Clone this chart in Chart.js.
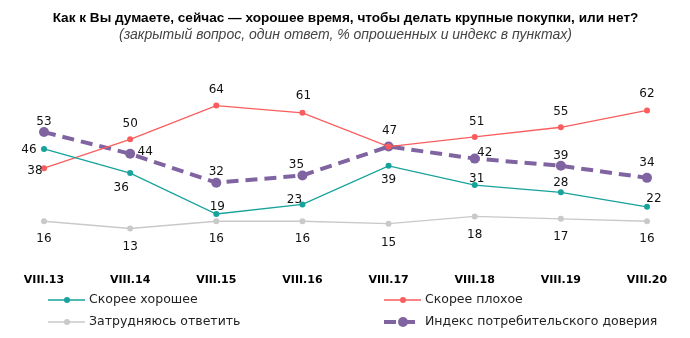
<!DOCTYPE html>
<html>
<head>
<meta charset="utf-8">
<script src="https://cdn.jsdelivr.net/npm/chart.js@4"></script>
<style>
  html, body { margin: 0; padding: 0; background: #fff; }
  #wrap { width: 690px; height: 338px; position: relative; }
</style>
</head>
<body>
<div id="wrap"><canvas id="chartPokupki"></canvas></div>
<script>
// Периоды опроса
const periods = ['VIII.13', 'VIII.14', 'VIII.15', 'VIII.16', 'VIII.17', 'VIII.18', 'VIII.19', 'VIII.20'];

// Доли ответов, %
const goodTime = [46, 36, 19, 23, 39, 31, 28, 22];
const badTime = [38, 50, 64, 61, 47, 51, 55, 62];
const hardToSay = [16, 13, 16, 16, 15, 18, 17, 16];
// Индекс потребительского доверия, пункты
const confidenceIndex = [53, 44, 32, 35, 47, 42, 39, 34];

// смещения подписей значений относительно точек (dx, dy), null - без подписи
const offGood = [[-15, 1], [-9, 15], [1, -7], [-8, -5], [0, 14], [2, -6], [0, -9], [7, -8]];
const offBad = [[-9, 3], [0, -15], [0, -16], [1, -17], [1, -16], [2, -15], [0, -15], [0, -17]];
const offHard = [[0, 18], [0, 18], [0, 18], [0, 18], [0, 19], [0, 18], [0, 18], [0, 18]];
const offIndex = [[0, -10], [15, -2], [0, -11], [-6, -11], null, [10, -6], [0, -10], [0, -15]];

const cGood = '#17a29b';
const cBad = '#fa5d5d';
const cHard = '#c9c9c9';
const cIndex = '#8064a2';

// подписи значений над точками
const valueLabels = {
    id: 'valueLabels',
    afterDatasetsDraw(chart) {
        const ctx = chart.ctx;
        ctx.save();
        ctx.font = '12px "DejaVu Sans"';
        ctx.fillStyle = '#111';
        ctx.textAlign = 'center';
        ctx.textBaseline = 'middle';
        chart.data.datasets.forEach((ds, i) => {
            const meta = chart.getDatasetMeta(i);
            meta.data.forEach((pt, j) => {
                const off = ds.labelOffsets[j];
                if (!off) return;
                ctx.fillText(ds.data[j], pt.x + off[0], pt.y + off[1]);
            });
        });
        ctx.restore();
    }
};

// легенда в две колонки
const twoColLegend = {
    id: 'twoColLegend',
    afterDraw(chart) {
        const ctx = chart.ctx;
        const cols = [48, 384];
        const rows = [300, 322];
        ctx.save();
        ctx.font = '12.5px "DejaVu Sans"';
        ctx.textBaseline = 'middle';
        ctx.textAlign = 'left';
        chart.data.datasets.forEach((ds, k) => {
            const x = cols[k % 2];
            const y = rows[Math.floor(k / 2)];
            ctx.strokeStyle = ds.borderColor;
            ctx.lineWidth = ds.borderWidth;
            ctx.setLineDash(ds.borderDash || []);
            ctx.beginPath();
            ctx.moveTo(x, y);
            ctx.lineTo(x + 37, y);
            ctx.stroke();
            ctx.setLineDash([]);
            ctx.fillStyle = ds.pointBackgroundColor;
            ctx.beginPath();
            ctx.arc(x + 19, y, ds.pointRadius, 0, Math.PI * 2);
            ctx.fill();
            ctx.fillStyle = '#222';
            ctx.fillText(ds.label, x + 41, y);
        });
        ctx.restore();
    }
};

const ctx = document.getElementById('chartPokupki').getContext('2d');
new Chart(ctx, {
    type: 'line',
    data: {
        labels: periods,
        datasets: [
            {
                label: 'Скорее хорошее',
                data: goodTime,
                labelOffsets: offGood,
                borderColor: cGood,
                pointBackgroundColor: cGood,
                borderWidth: 1.3,
                pointRadius: 3,
                pointBorderWidth: 0
            },
            {
                label: 'Скорее плохое',
                data: badTime,
                labelOffsets: offBad,
                borderColor: cBad,
                pointBackgroundColor: cBad,
                borderWidth: 1.3,
                pointRadius: 3,
                pointBorderWidth: 0
            },
            {
                label: 'Затрудняюсь ответить',
                data: hardToSay,
                labelOffsets: offHard,
                borderColor: cHard,
                pointBackgroundColor: cHard,
                borderWidth: 1.3,
                pointRadius: 3,
                pointBorderWidth: 0
            },
            {
                label: 'Индекс потребительского доверия',
                data: confidenceIndex,
                labelOffsets: offIndex,
                borderColor: cIndex,
                pointBackgroundColor: cIndex,
                borderWidth: 4,
                borderDash: [12, 7],
                pointRadius: 5,
                pointBorderWidth: 0
            }
        ]
    },
    options: {
        responsive: true,
        maintainAspectRatio: false,
        animation: false,
        layout: {
            padding: { left: 44, right: 43, top: 0, bottom: 37 }
        },
        plugins: {
            legend: { display: false },
            tooltip: { enabled: false },
            title: {
                display: true,
                text: 'Как к Вы думаете, сейчас — хорошее время, чтобы делать крупные покупки, или нет?',
                color: '#000',
                font: { family: '"Liberation Sans"', size: 13.6, weight: 'bold' },
                padding: { top: 10, bottom: 0 }
            },
            subtitle: {
                display: true,
                text: '(закрытый вопрос, один ответ, % опрошенных и индекс в пунктах)',
                color: '#444',
                font: { family: '"Liberation Sans"', size: 14, style: 'italic' },
                padding: { top: 0, bottom: 48 }
            }
        },
        scales: {
            x: {
                offset: false,
                grid: { display: false, drawTicks: false },
                border: { display: false },
                ticks: {
                    color: '#000',
                    padding: 14,
                    autoSkip: false,
                    maxRotation: 0,
                    font: { family: '"DejaVu Sans"', size: 11, weight: 'bold' }
                }
            },
            y: {
                display: false,
                min: 0,
                max: 70
            }
        }
    },
    plugins: [valueLabels, twoColLegend]
});
</script>
</body>
</html>
